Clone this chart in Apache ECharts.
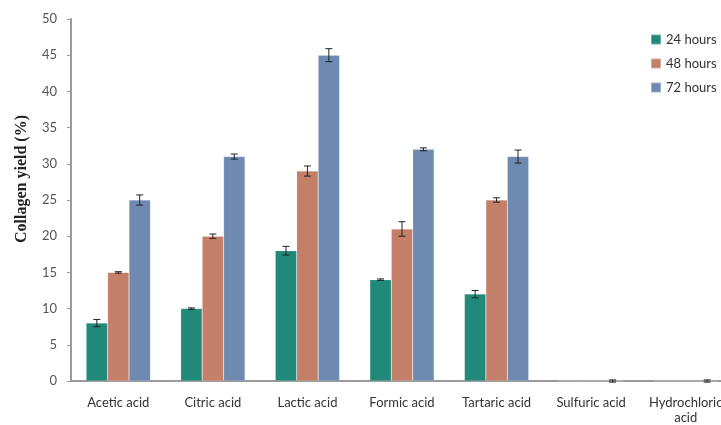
<!DOCTYPE html>
<html>
<head>
<meta charset="utf-8">
<script src="https://cdn.jsdelivr.net/npm/echarts@6/dist/echarts.min.js"></script>
<style>html,body{margin:0;padding:0;background:#fff;overflow:hidden;width:721px;height:425px;}#c{width:740px;height:425px;}</style>
</head>
<body>
<div id="c"></div>
<script>
const categories = ['Acetic acid', 'Citric acid', 'Lactic acid', 'Formic acid', 'Tartaric acid', 'Sulfuric acid', 'Hydrochloric\nacid'];
const seriesNames = ['24 hours', '48 hours', '72 hours'];
const h24 = [8, 10, 18, 14, 12, 0, 0];
const h48 = [15, 20, 29, 21, 25, 0, 0];
const h72 = [25, 31, 45, 32, 31, 0, 0];
const e24 = [0.5, 0.1, 0.6, 0.1, 0.5, 0, 0];
const e48 = [0.1, 0.3, 0.7, 1.0, 0.3, 0, 0];
const e72 = [0.7, 0.35, 0.9, 0.2, 0.9, 0.15, 0.15];
const yTicks = [0, 5, 10, 15, 20, 25, 30, 35, 40, 45, 50];
const yTitle = 'Collagen yield (%)';

const colors = ['#21897a', '#c47f68', '#6f8ab0'];
const values = [h24, h48, h72];
const errs = [e24, e48, e72];
const gapRatio = 0.32;

const chart = echarts.init(document.getElementById('c'));

function errorSeries(k) {
  const data = values[k].map((v, i) => [i, v - errs[k][i], v + errs[k][i], errs[k][i]]);
  return {
    type: 'custom',
    name: 'err' + k,
    z: 10,
    renderItem: function (params, api) {
      const idx = api.value(0);
      if (api.value(3) <= 0) return;
      const catW = api.size([1, 0])[0];
      const barW = catW * (1 - gapRatio) / 3;
      const off = (k - 1) * barW;
      const lo = api.coord([idx, api.value(1)]);
      const hi = api.coord([idx, api.value(2)]);
      const x = lo[0] + off;
      const cw = 3.5;
      const st = { stroke: '#222', lineWidth: 1 };
      return {
        type: 'group',
        children: [
          { type: 'line', shape: { x1: x, y1: lo[1], x2: x, y2: hi[1] }, style: st },
          { type: 'line', shape: { x1: x - cw, y1: lo[1], x2: x + cw, y2: lo[1] }, style: st },
          { type: 'line', shape: { x1: x - cw, y1: hi[1], x2: x + cw, y2: hi[1] }, style: st }
        ]
      };
    },
    data: data
  };
}

const barSeries = seriesNames.map((n, k) => ({
  type: 'bar',
  name: n,
  data: values[k],
  barGap: '0%',
  barCategoryGap: (gapRatio * 100) + '%',
  itemStyle: { color: colors[k], borderColor: 'rgba(255,255,255,0.35)', borderWidth: 0.5 }
}));

chart.setOption({
  animation: false,
  textStyle: { fontFamily: 'Lato, Open Sans, sans-serif' },
  grid: { left: 71, top: 19, bottom: 43, right: 7, containLabel: false },
  graphic: [{
    type: 'text',
    x: 22,
    y: 179,
    rotation: Math.PI / 2,
    style: {
      text: yTitle,
      fontFamily: 'Liberation Serif, DejaVu Serif, serif',
      fontWeight: 'bold',
      fontSize: 16,
      fill: '#222',
      align: 'center',
      verticalAlign: 'middle'
    }
  }],
  legend: {
    data: seriesNames,
    orient: 'vertical',
    left: 645,
    top: 28,
    itemWidth: 10,
    itemHeight: 10,
    itemGap: 11,
    icon: 'rect',
    textStyle: { fontSize: 13, color: '#333', fontFamily: 'Lato, sans-serif' }
  },
  xAxis: {
    type: 'category',
    data: categories,
    axisLine: { lineStyle: { color: '#9a9a9a', width: 2 } },
    axisTick: { show: false },
    axisLabel: { color: '#333', fontSize: 13, margin: 14, interval: 0, lineHeight: 15 }
  },
  yAxis: {
    type: 'value',
    min: 0,
    max: 50,
    interval: 5,
    axisLine: { show: true, lineStyle: { color: '#9a9a9a', width: 2 } },
    axisTick: { show: true, length: 4, lineStyle: { color: '#9a9a9a' } },
    splitLine: { show: false },
    axisLabel: { color: '#555', fontSize: 13, margin: 14, formatter: v => yTicks.includes(v) ? String(v) : '' }
  },
  series: barSeries.concat([errorSeries(0), errorSeries(1), errorSeries(2)])
});
</script>
</body>
</html>
